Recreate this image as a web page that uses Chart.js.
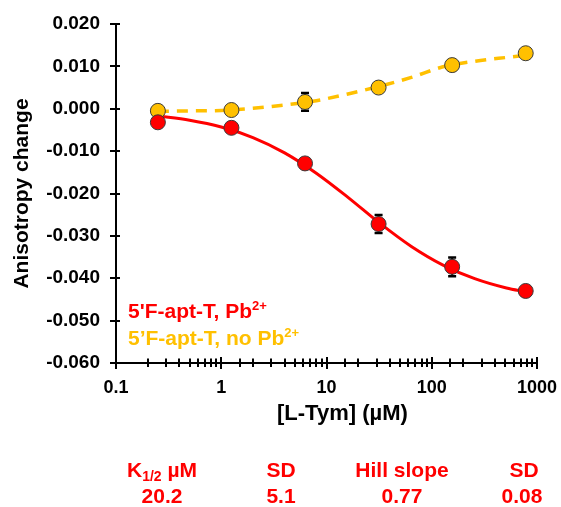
<!DOCTYPE html>
<html><head><meta charset="utf-8">
<script src="https://cdn.jsdelivr.net/npm/chart.js@4/dist/chart.umd.min.js"></script>
<style>
html,body{margin:0;padding:0;background:#fff;}
#wrap{position:relative;width:561px;height:507px;overflow:hidden;font-family:"Liberation Sans",Arial,sans-serif;font-weight:bold;}
#c{position:absolute;left:0;top:0;}
.t{position:absolute;white-space:nowrap;line-height:1;}
.red{color:#FF0000;}
.yel{color:#FFC000;}
.cell{width:140px;text-align:center;font-size:21px;}
</style></head><body>
<div id="wrap">
<canvas id="c" width="561" height="507"></canvas>
<div class="t red" style="left:128px;top:300px;font-size:21px;">5'F-apt-T, Pb<span style="font-size:13px;position:relative;top:-8px;">2+</span></div>
<div class="t yel" style="left:128px;top:327px;font-size:21px;">5’F-apt-T, no Pb<span style="font-size:13px;position:relative;top:-8px;">2+</span></div>
<div class="t" style="left:277px;top:402px;font-size:22px;color:#000;">[L-Tym] (µM)</div>
<div class="t red cell" style="left:92px;top:459px;">K<span style="font-size:14px;position:relative;top:4px;">1/2</span> µM</div>
<div class="t red cell" style="left:211px;top:459px;">SD</div>
<div class="t red cell" style="left:332px;top:459px;">Hill slope</div>
<div class="t red cell" style="left:454px;top:459px;">SD</div>
<div class="t red cell" style="left:92px;top:485px;">20.2</div>
<div class="t red cell" style="left:211px;top:485px;">5.1</div>
<div class="t red cell" style="left:332px;top:485px;">0.77</div>
<div class="t red cell" style="left:452px;top:485px;">0.08</div>
</div>
<script>
// ---- data ----
const concentrations = [0.25, 1.25, 6.25, 31.25, 156.25, 781.25];
const withPb = [-0.0032, -0.0045, -0.0129, -0.0272, -0.0373, -0.0430];
const withPbErr = [0.0006, 0.0008, 0.0010, 0.0021, 0.0022, 0.0008];
const noPb = [-0.0005, -0.0003, 0.0016, 0.0050, 0.0103, 0.0131];
const noPbErr = [0.0007, 0.0006, 0.0021, 0.0008, 0.0010, 0.0008];
// fitted curves
const fitX = [0.25, 0.5, 1, 2, 4, 8, 16, 32, 64, 128, 256, 512, 781.25];
const fitWithPb = [-0.0017, -0.0027, -0.0043, -0.0068, -0.0104, -0.0152, -0.0209, -0.0270, -0.0325, -0.0369, -0.0401, -0.0423, -0.0432];
const fitNoPb = [-0.0006, -0.0005, -0.0004, 0.0001, 0.0009, 0.0019, 0.0035, 0.0053, 0.0074, 0.0099, 0.0112, 0.0121, 0.0126];
const xTickLabels = [0.1, 1, 10, 100, 1000];
const yTickValues = [0.02, 0.01, 0, -0.01, -0.02, -0.03, -0.04, -0.05, -0.06];

const RED = '#FF0000', YEL = '#FFC000';
const pts = (xs, ys) => xs.map((x, i) => ({x: x, y: ys[i]}));

const crossTicks = {
  id: 'crossTicks',
  beforeDatasetsDraw(chart) {
    const ctx = chart.ctx, xs = chart.scales.x, ys = chart.scales.y;
    const area = chart.chartArea;
    ctx.save();
    ctx.strokeStyle = '#000';
    ctx.lineWidth = 2;
    ctx.beginPath();
    xs.ticks.forEach(t => {
      const px = Math.round(xs.getPixelForValue(t.value));
      const major = xTickLabels.some(v => Math.abs(v - t.value) / v < 1e-6);
      const up = major ? 6 : 4.5, dn = major ? 6 : 4;
      ctx.moveTo(px, area.bottom - up);
      ctx.lineTo(px, area.bottom + dn);
    });
    ys.ticks.forEach(t => {
      const py = Math.round(ys.getPixelForValue(t.value));
      ctx.moveTo(area.left - 6, py);
      ctx.lineTo(area.left + 4, py);
    });
    ctx.stroke();
    // error bars
    const bars = [[0, withPbErr], [1, noPbErr]];
    bars.forEach(([di, errs]) => {
      const data = chart.data.datasets[di].data;
      data.forEach((p, i) => {
        const px = xs.getPixelForValue(p.x);
        const y1 = ys.getPixelForValue(p.y + errs[i]);
        const y2 = ys.getPixelForValue(p.y - errs[i]);
        ctx.lineWidth = 2;
        ctx.beginPath();
        ctx.moveTo(px, y1); ctx.lineTo(px, y2);
        ctx.stroke();
        ctx.lineWidth = 2.5;
        ctx.beginPath();
        ctx.moveTo(px - 4, y1); ctx.lineTo(px + 4, y1);
        ctx.moveTo(px - 4, y2); ctx.lineTo(px + 4, y2);
        ctx.stroke();
      });
    });
    ctx.restore();
  }
};

Chart.defaults.font.family = "'Liberation Sans', Arial, sans-serif";
Chart.defaults.font.weight = 'bold';
Chart.defaults.color = '#000';

new Chart(document.getElementById('c'), {
  type: 'scatter',
  data: {
    datasets: [
      {label: "5'F-apt-T, Pb2+", data: pts(concentrations, withPb), backgroundColor: RED, borderColor: '#3a3a3a', borderWidth: 1, pointRadius: 7.5, pointHoverRadius: 7.5, showLine: false},
      {label: "5’F-apt-T, no Pb2+", data: pts(concentrations, noPb), backgroundColor: YEL, borderColor: '#3a3a3a', borderWidth: 1, pointRadius: 7.5, pointHoverRadius: 7.5, showLine: false},
      {label: 'fit Pb', data: pts(fitX, fitWithPb), showLine: true, borderColor: RED, borderWidth: 3, pointRadius: 0, cubicInterpolationMode: 'monotone', fill: false},
      {label: 'fit no Pb', data: pts(fitX, fitNoPb), showLine: true, borderColor: YEL, borderWidth: 3.5, borderDash: [11, 8], pointRadius: 0, cubicInterpolationMode: 'monotone', fill: false}
    ]
  },
  options: {
    responsive: false,
    animation: false,
    devicePixelRatio: 1,
    layout: {padding: {left: 0, right: 24, top: 24, bottom: 0}},
    plugins: {legend: {display: false}, tooltip: {enabled: false}},
    scales: {
      x: {
        type: 'logarithmic', min: 0.1, max: 1000,
        afterFit: s => { s.height = 144; s.paddingLeft = 0; s.paddingRight = 0; },
        grid: {display: false},
        border: {display: true, color: '#000', width: 2},
        ticks: {
          autoSkip: false, maxRotation: 0, padding: 6, font: {size: 18, weight: 'bold'}, color: '#000',
          callback: v => { const m = xTickLabels.find(t => Math.abs(t - v) / t < 1e-6); return m === undefined ? '' : String(m); }
        }
      },
      y: {
        min: -0.06, max: 0.02,
        afterFit: s => { s.width = 116; s.paddingTop = 0; s.paddingBottom = 0; },
        afterBuildTicks: s => { s.ticks = yTickValues.map(v => ({value: v})); },
        grid: {display: false},
        border: {display: true, color: '#000', width: 2},
        ticks: {padding: 8, font: {size: 19, weight: 'bold'}, color: '#000', callback: v => Number(v).toFixed(3)},
        title: {display: true, text: 'Anisotropy change', font: {size: 21, weight: 'bold'}, color: '#000', padding: {top: 10, bottom: 0}}
      }
    }
  },
  plugins: [crossTicks]
});
</script>
</body></html>
